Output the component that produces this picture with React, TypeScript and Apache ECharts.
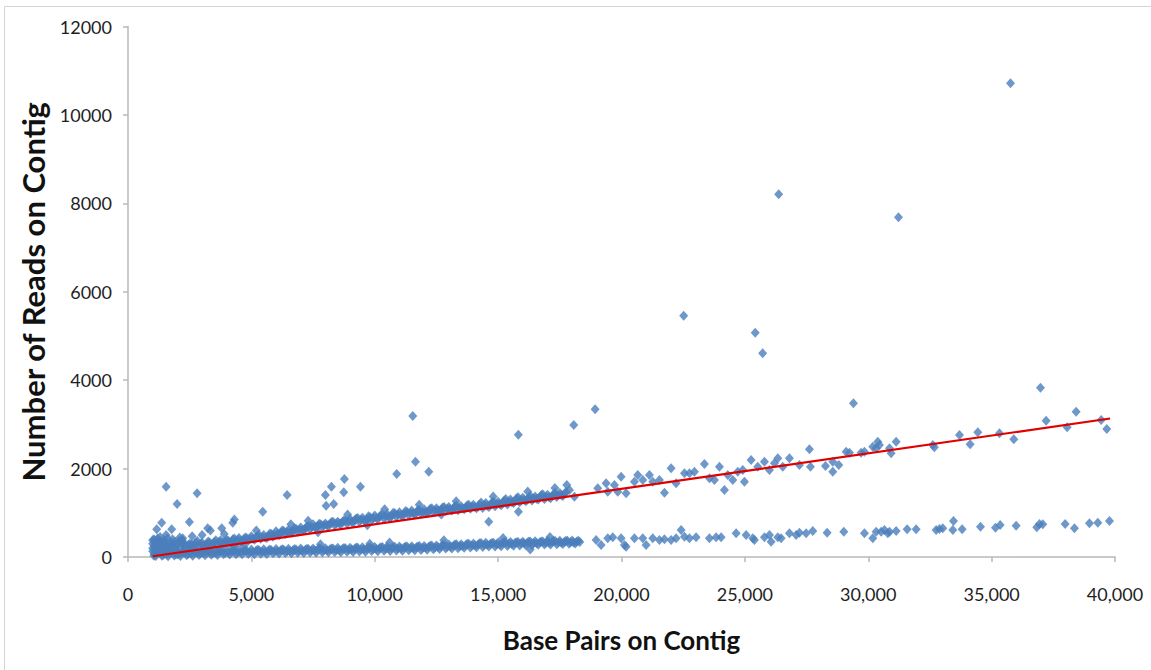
import React, { useEffect, useRef } from "react";
import * as echarts from "echarts";

// Axis ranges (tick labels are generated by the axes)
const xAxisRange = { min: 0, max: 40000, interval: 5000 };
const yAxisRange = { min: 0, max: 12000, interval: 2000 };

// High-coverage band, dense part (four staggered rows)
const highBandDenseA: [number, number][] = [
  [1000, 300], [1250, 330], [1500, 280], [1750, 310], [2000, 290], [2250, 320], [2500, 300], [2750, 330],
  [3000, 320], [3250, 350], [3500, 340], [3750, 380], [4000, 390], [4250, 400], [4500, 430], [4750, 440],
  [5000, 470], [5250, 480], [5500, 500], [5750, 530], [6000, 580], [6250, 600], [6500, 610], [6750, 650],
  [7000, 670], [7250, 690], [7500, 740], [7750, 750], [8000, 760], [8250, 790], [8500, 800], [8750, 830],
  [9000, 860], [9250, 870], [9500, 890], [9750, 920], [10000, 940], [10250, 950], [10500, 970], [10750, 1000],
  [11000, 1010], [11250, 1040], [11500, 1050], [11750, 1060], [12000, 1080], [12250, 1090], [12500, 1100], [12750, 1120],
  [13000, 1130], [13250, 1150], [13500, 1150], [13750, 1170], [14000, 1180], [14250, 1190], [14500, 1220], [14750, 1230],
  [15000, 1250], [15250, 1280], [15500, 1300], [15750, 1330], [16000, 1340], [16250, 1350], [16500, 1370], [16750, 1400],
  [17000, 1410], [17250, 1420], [17500, 1450], [17750, 1470],
];
const highBandDenseB: [number, number][] = [
  [1125, 180], [1375, 200], [1625, 170], [1875, 210], [2125, 190], [2375, 220], [2625, 210], [2875, 240],
  [3125, 250], [3375, 260], [3625, 280], [3875, 300], [4125, 310], [4375, 330], [4625, 350], [4875, 370],
  [5125, 390], [5375, 410], [5625, 430], [5875, 460], [6125, 500], [6375, 520], [6625, 550], [6875, 570],
  [7125, 600], [7375, 630], [7625, 660], [7875, 680], [8125, 700], [8375, 720], [8625, 740], [8875, 760],
  [9125, 780], [9375, 800], [9625, 810], [9875, 830], [10125, 860], [10375, 870], [10625, 890], [10875, 910],
  [11125, 930], [11375, 950], [11625, 960], [11875, 980], [12125, 990], [12375, 1010], [12625, 1020], [12875, 1040],
  [13125, 1050], [13375, 1060], [13625, 1080], [13875, 1090], [14125, 1100], [14375, 1110], [14625, 1130], [14875, 1150],
  [15125, 1170], [15375, 1190], [15625, 1220], [15875, 1240], [16125, 1260], [16375, 1280], [16625, 1300], [16875, 1310],
  [17125, 1330], [17375, 1360], [17625, 1380],
];
const highBandDenseC: [number, number][] = [
  [1060, 250], [1310, 360], [1560, 230], [1810, 280], [2060, 350], [2310, 250], [2560, 290], [2810, 360],
  [3060, 270], [3310, 330], [3560, 380], [3810, 320], [4060, 370], [4310, 420], [4560, 360], [4810, 430],
  [5060, 410], [5310, 500], [5560, 440], [5810, 520], [6060, 520], [6310, 590], [6560, 560], [6810, 640],
  [7060, 610], [7310, 700], [7560, 680], [7810, 740], [8060, 720], [8310, 800], [8560, 760], [8810, 820],
  [9060, 800], [9310, 880], [9560, 830], [9810, 900], [10060, 880], [10310, 960], [10560, 910], [10810, 990],
  [11060, 950], [11310, 1020], [11560, 990], [11810, 1060], [12060, 1020], [12310, 1100], [12560, 1050], [12810, 1130],
  [13060, 1080], [13310, 1160], [13560, 1100], [13810, 1180], [14060, 1130], [14310, 1230], [14560, 1160], [14810, 1250],
  [15060, 1200], [15310, 1310], [15560, 1240], [15810, 1350], [16060, 1290], [16310, 1380], [16560, 1320], [16810, 1420],
  [17060, 1360], [17310, 1450], [17560, 1400],
];
const highBandDenseD: [number, number][] = [
  [1190, 220], [1440, 310], [1690, 260], [1940, 240], [2190, 300], [2440, 270], [2690, 250], [2940, 300],
  [3190, 300], [3440, 290], [3690, 340], [3940, 350], [4190, 340], [4440, 390], [4690, 400], [4940, 410],
  [5190, 440], [5440, 450], [5690, 480], [5940, 500], [6190, 550], [6440, 570], [6690, 600], [6940, 620],
  [7190, 650], [7440, 680], [7690, 700], [7940, 720], [8190, 750], [8440, 760], [8690, 790], [8940, 810],
  [9190, 830], [9440, 840], [9690, 860], [9940, 880], [10190, 910], [10440, 920], [10690, 940], [10940, 960],
  [11190, 980], [11440, 1000], [11690, 1010], [11940, 1020], [12190, 1040], [12440, 1060], [12690, 1070], [12940, 1090],
  [13190, 1100], [13440, 1110], [13690, 1120], [13940, 1140], [14190, 1150], [14440, 1170], [14690, 1180], [14940, 1200],
  [15190, 1220], [15440, 1250], [15690, 1270], [15940, 1290], [16190, 1300], [16440, 1330], [16690, 1350], [16940, 1360],
  [17190, 1380], [17440, 1400], [17690, 1430],
];
// Points sticking out of the high band edges
const highBandEdges: [number, number][] = [
  [2600, 470], [3900, 520], [5200, 600], [6600, 740], [7300, 820], [8900, 960], [10400, 1080], [11800, 1180],
  [13300, 1260], [14800, 1370], [16200, 1480], [17300, 1560], [4700, 260], [7700, 560], [9700, 720], [12700, 960],
];
// Extra points in the crowded low-length corner
const cornerBlob: [number, number][] = [
  [1050, 400], [1200, 420], [1100, 80], [1300, 450], [1450, 380], [1600, 420], [1800, 400], [2100, 440],
  [1000, 200], [1000, 380], [1150, 330], [1250, 250], [1400, 150], [1500, 350], [1700, 200], [1900, 350],
  [2200, 380], [2400, 160], [2700, 200], [1050, 30], [1350, 110], [1650, 130], [2000, 60],
];
// High-coverage band, sparse part
const highBandSparse: [number, number][] = [
  [17782, 1628], [17890, 1515], [18092, 1364], [19038, 1553], [19376, 1666], [19443, 1478], [19714, 1628], [19849, 1478],
  [19984, 1817], [20186, 1440], [20524, 1704], [20659, 1855], [20862, 1742], [21132, 1855], [21267, 1704], [21537, 1742],
  [21740, 1455], [22010, 2005], [22213, 1666], [22551, 1892], [22753, 1892], [22956, 1930], [23361, 2103], [23564, 1779],
  [23766, 1742], [23969, 2043], [24172, 1515], [24307, 1855], [24510, 1742], [24712, 1930], [24915, 1968], [24982, 1704],
  [25253, 2194], [25523, 2043], [25793, 2156], [25996, 1968], [26198, 2119], [26334, 2232], [26536, 2043], [26806, 2232],
  [27212, 2081], [27617, 2436], [27658, 2044], [28266, 2059], [28563, 2157], [28563, 1931], [28806, 2081], [29103, 2383],
  [29239, 2360], [29711, 2360], [29846, 2383], [30184, 2496], [30387, 2609], [30319, 2458], [30454, 2534], [30860, 2458],
  [30927, 2345], [31130, 2609], [32616, 2534], [32680, 2481], [33697, 2760], [34129, 2549], [34440, 2820], [35318, 2798],
  [35899, 2662], [37209, 3084], [38060, 2933], [38425, 3288], [39439, 3099], [39668, 2896],
];
// Low-coverage band, dense part (four staggered rows)
const lowBandDenseA: [number, number][] = [
  [1000, 130], [1250, 120], [1500, 140], [1750, 125], [2000, 135], [2250, 140], [2500, 130], [2750, 145],
  [3000, 150], [3250, 140], [3500, 155], [3750, 150], [4000, 160], [4250, 155], [4500, 165], [4750, 160],
  [5000, 170], [5250, 165], [5500, 175], [5750, 170], [6000, 180], [6250, 175], [6500, 185], [6750, 180],
  [7000, 190], [7250, 185], [7500, 195], [7750, 200], [8000, 200], [8250, 195], [8500, 210], [8750, 205],
  [9000, 210], [9250, 215], [9500, 220], [9750, 215], [10000, 225], [10250, 220], [10500, 230], [10750, 225],
  [11000, 235], [11250, 240], [11500, 245], [11750, 240], [12000, 250], [12250, 255], [12500, 260], [12750, 265],
  [13000, 280], [13250, 285], [13500, 290], [13750, 300], [14000, 305], [14250, 310], [14500, 320], [14750, 315],
  [15000, 330], [15250, 335], [15500, 340], [15750, 335], [16000, 345], [16250, 350], [16500, 355], [16750, 350],
  [17000, 360], [17250, 365], [17500, 370], [17750, 365], [18000, 375], [18250, 370],
];
const lowBandDenseB: [number, number][] = [
  [1125, 20], [1375, 30], [1625, 15], [1875, 35], [2125, 25], [2375, 40], [2625, 30], [2875, 45],
  [3125, 40], [3375, 50], [3625, 45], [3875, 60], [4125, 55], [4375, 65], [4625, 60], [4875, 70],
  [5125, 65], [5375, 75], [5625, 70], [5875, 85], [6125, 80], [6375, 90], [6625, 85], [6875, 95],
  [7125, 90], [7375, 100], [7625, 95], [7875, 110], [8125, 105], [8375, 115], [8625, 110], [8875, 120],
  [9125, 115], [9375, 125], [9625, 120], [9875, 135], [10125, 130], [10375, 140], [10625, 135], [10875, 145],
  [11125, 140], [11375, 155], [11625, 150], [11875, 160], [12125, 165], [12375, 175], [12625, 180], [12875, 190],
  [13125, 195], [13375, 200], [13625, 210], [13875, 215], [14125, 220], [14375, 225], [14625, 235], [14875, 240],
  [15125, 245], [15375, 250], [15625, 255], [15875, 260], [16125, 265], [16375, 270], [16625, 275], [16875, 280],
  [17125, 285], [17375, 290], [17625, 295], [17875, 300], [18125, 305],
];
const lowBandDenseC: [number, number][] = [
  [1060, 70], [1310, 90], [1560, 60], [1810, 100], [2060, 75], [2310, 105], [2560, 80], [2810, 110],
  [3060, 90], [3310, 120], [3560, 95], [3810, 125], [4060, 100], [4310, 135], [4560, 110], [4810, 140],
  [5060, 115], [5310, 150], [5560, 120], [5810, 155], [6060, 130], [6310, 165], [6560, 135], [6810, 170],
  [7060, 140], [7310, 180], [7560, 150], [7810, 185], [8060, 155], [8310, 195], [8560, 160], [8810, 200],
  [9060, 170], [9310, 210], [9560, 175], [9810, 215], [10060, 180], [10310, 225], [10560, 190], [10810, 230],
  [11060, 195], [11310, 240], [11560, 200], [11810, 250], [12060, 210], [12310, 260], [12560, 225], [12810, 275],
  [13060, 240], [13310, 290], [13560, 250], [13810, 300], [14060, 260], [14310, 315], [14560, 275], [14810, 325],
  [15060, 285], [15310, 335], [15560, 295], [15810, 340], [16060, 305], [16310, 345], [16560, 310], [16810, 350],
  [17060, 320], [17310, 360], [17560, 325], [17810, 365], [18060, 330], [18310, 340],
];
const lowBandDenseD: [number, number][] = [
  [1190, 100], [1440, 50], [1690, 95], [1940, 60], [2190, 110], [2440, 70], [2690, 115], [2940, 80],
  [3190, 120], [3440, 85], [3690, 125], [3940, 95], [4190, 130], [4440, 100], [4690, 135], [4940, 110],
  [5190, 140], [5440, 115], [5690, 145], [5940, 125], [6190, 150], [6440, 130], [6690, 155], [6940, 140],
  [7190, 165], [7440, 145], [7690, 170], [7940, 155], [8190, 175], [8440, 160], [8690, 180], [8940, 165],
  [9190, 185], [9440, 170], [9690, 195], [9940, 180], [10190, 200], [10440, 185], [10690, 205], [10940, 190],
  [11190, 215], [11440, 200], [11690, 220], [11940, 205], [12190, 230], [12440, 215], [12690, 240], [12940, 230],
  [13190, 255], [13440, 245], [13690, 270], [13940, 260], [14190, 285], [14440, 275], [14690, 300], [14940, 290],
  [15190, 315], [15440, 300], [15690, 320], [15940, 310], [16190, 330], [16440, 315], [16690, 335], [16940, 320],
  [17190, 340], [17440, 330], [17690, 345], [17940, 335], [18190, 350],
];
// Points sticking out of the low band edges
const lowBandEdges: [number, number][] = [
  [4300, 250], [7800, 290], [9800, 300], [10600, 330], [12800, 380], [15200, 430], [17100, 450], [16300, 170],
];
// Low-coverage band, sparse part
const lowBandSparse: [number, number][] = [
  [18971, 384], [19173, 271], [19443, 422], [19646, 445], [19984, 422], [20119, 271], [20186, 233], [20524, 422],
  [20862, 422], [20997, 271], [21267, 422], [21537, 384], [21740, 399], [22010, 384], [22213, 422], [22416, 610],
  [22551, 460], [22753, 422], [23023, 445], [23564, 422], [23834, 445], [24037, 445], [24645, 535], [25050, 497],
  [25320, 422], [25388, 384], [25793, 445], [25996, 497], [26063, 347], [26334, 445], [26469, 422], [26806, 535],
  [27077, 497], [27212, 551], [27482, 536], [27752, 588], [28333, 551], [29009, 573], [29846, 536], [30184, 423],
  [30319, 573], [30522, 573], [30657, 611], [30792, 536], [30860, 573], [31130, 588], [31576, 626], [31941, 626],
  [32751, 611], [32886, 634], [33021, 649], [33454, 815], [33427, 611], [33805, 626], [34548, 686], [35156, 664],
  [35345, 724], [35994, 709], [36831, 671], [36939, 747], [37074, 739], [37979, 747], [38357, 649], [38965, 762],
  [39304, 777], [39776, 815],
];
// Scattered outliers
const outliers: [number, number][] = [
  [1545, 1590], [1366, 776], [1163, 626], [1771, 626], [1544, 498], [1990, 1199], [2217, 423], [2488, 792],
  [2800, 1441], [3003, 498], [3230, 649], [3340, 600], [3798, 649], [4245, 776], [4310, 850], [5460, 1025],
  [6448, 1402], [8000, 1402], [8029, 1160], [8244, 1590], [8337, 1199], [8770, 1764], [8744, 1463], [9420, 1590],
  [10890, 1877], [11540, 3190], [11650, 2156], [12190, 1930], [14620, 800], [15820, 2766], [15823, 1025], [18065, 2986],
  [18930, 3341], [22520, 5458], [25420, 5074], [25720, 4608], [26370, 8204], [29400, 3477], [31225, 7684], [35765, 10715],
  [36980, 3830],
];
// Linear trend line end points
const trendLine: [number, number][] = [
  [1000, 17],
  [39800, 3133],
];

const allPoints = [
  ...lowBandDenseB, ...lowBandDenseC, ...lowBandDenseD, ...lowBandDenseA, ...lowBandEdges,
  ...highBandDenseB, ...highBandDenseC, ...highBandDenseD, ...highBandDenseA, ...highBandEdges,
  ...cornerBlob, ...highBandSparse, ...lowBandSparse, ...outliers,
];

const FONT = "Lato";

export default function App() {
  const ref = useRef<HTMLDivElement>(null);
  useEffect(() => {
    if (!ref.current) return;
    const chart = echarts.init(ref.current, null, { renderer: "svg" });
    chart.setOption({
      animation: false,
      backgroundColor: "#ffffff",
      textStyle: { fontFamily: FONT },
      grid: { left: 128, right: 36, top: 26.5, bottom: 113, containLabel: false },
      graphic: [
        {
          type: "rect",
          shape: { x: 4.5, y: 6.5, width: 1200, height: 700 },
          style: { fill: "none", stroke: "#d4d4d4", lineWidth: 1 },
          silent: true,
          z: -10,
        },
      ],
      xAxis: {
        type: "value",
        min: xAxisRange.min,
        max: xAxisRange.max,
        interval: xAxisRange.interval,
        name: "Base Pairs on Contig",
        nameLocation: "middle",
        nameGap: 70,
        nameTextStyle: { fontFamily: FONT, fontWeight: "bold", fontSize: 26, color: "#111111" },
        axisLine: { show: true, lineStyle: { color: "#b8b8b8", width: 1.5 } },
        axisTick: { show: true, inside: false, length: 5, lineStyle: { color: "#b8b8b8", width: 1.5 } },
        axisLabel: {
          fontFamily: FONT,
          fontSize: 18,
          color: "#1e1e1e",
          margin: 28,
          formatter: (v: number) => v.toLocaleString("en-US"),
        },
        splitLine: { show: false },
      },
      yAxis: {
        type: "value",
        min: yAxisRange.min,
        max: yAxisRange.max,
        interval: yAxisRange.interval,
        name: "Number of Reads on Contig",
        nameLocation: "middle",
        nameGap: 72,
        nameTextStyle: { fontFamily: FONT, fontWeight: "bold", fontSize: 31, color: "#111111" },
        axisLine: { show: true, lineStyle: { color: "#b8b8b8", width: 1.5 } },
        axisTick: { show: true, inside: false, length: 5, lineStyle: { color: "#b8b8b8", width: 1.5 } },
        axisLabel: {
          fontFamily: FONT,
          fontSize: 18,
          color: "#1e1e1e",
          margin: 16,
          formatter: (v: number) => String(v),
        },
        splitLine: { show: false },
      },
      series: [
        {
          type: "scatter",
          data: allPoints,
          symbol: "diamond",
          symbolSize: [9, 10],
          itemStyle: { color: "#4a7ebb" },
          z: 2,
        },
        {
          type: "line",
          data: trendLine,
          showSymbol: false,
          symbol: "none",
          lineStyle: { color: "#e00000", width: 2.2 },
          z: 3,
        },
      ],
    });
    return () => chart.dispose();
  }, []);
  return (
    <div
      ref={ref}
      style={{ position: "absolute", left: 0, top: 0, width: 1151, height: 670, background: "#fff" }}
    />
  );
}
